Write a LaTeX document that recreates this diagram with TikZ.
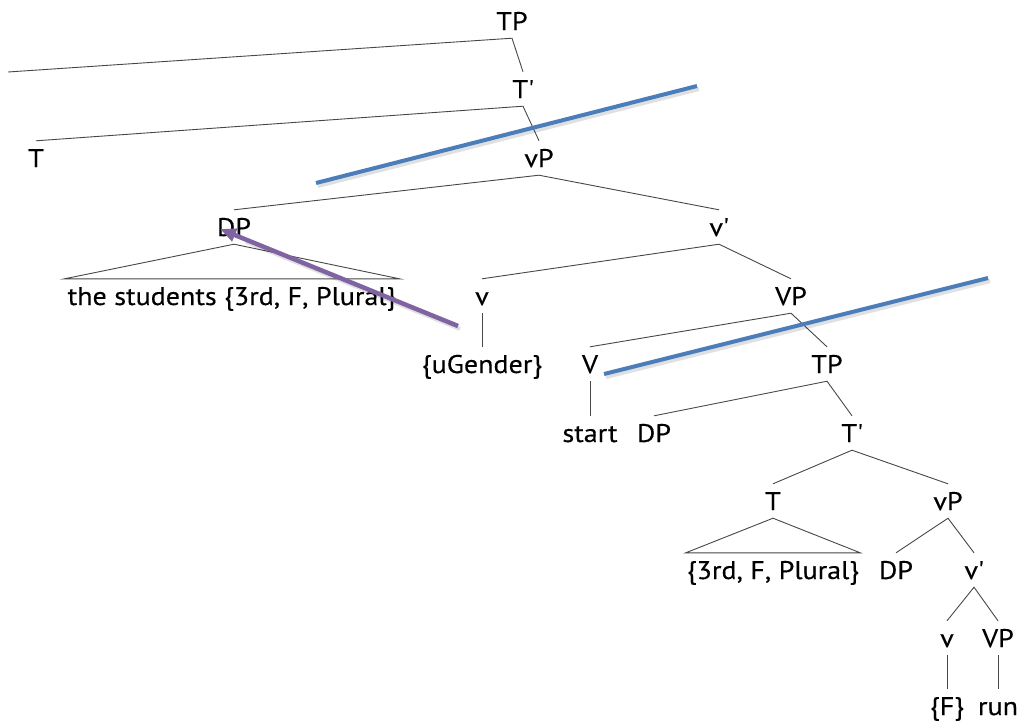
\documentclass[tikz,border=0pt]{standalone}
\usepackage{fontspec}
\setmainfont{PT Sans}[FakeStretch=1.1,FakeBold=0.3]
\usetikzlibrary{arrows.meta,calc}
\definecolor{strikeblue}{RGB}{74,126,187}
\definecolor{agrpurple}{RGB}{128,100,162}
\newcommand{\lblfont}{\fontsize{25.5}{30}\selectfont}
\newcommand{\pr}{\textquotesingle}
\tikzset{
  lbl/.style={font=\lblfont, inner xsep=1pt, inner ysep=8pt, text height=18pt, text depth=0pt, anchor=base},
  branch/.style={draw=black!72, line width=0.9pt},
  strike/.style={draw=strikeblue, line width=4pt},
  agree/.style={draw=agrpurple, line width=4.5pt, -{Triangle[length=16pt,width=13pt]}},
  shade/.style={draw=black, opacity=0.12, line width=4pt}
}
\begin{document}
\begin{tikzpicture}[x=1pt,y=-1pt]
\useasboundingbox (0,0) rectangle (1027,723);
% row 0
\node[lbl] (TP0) at (512,30) {TP};
% row 1
\node[lbl] (Tb1) at (523,98) {T\pr};
% row 2
\node[lbl] (T2) at (36,167) {T};
\node[lbl] (vP2) at (539,167) {vP};
% row 3
\node[lbl] (DP3) at (234,236) {DP};
\node[lbl] (vb3) at (719,236) {v\pr};
% row 4
\node[lbl, inner xsep=3pt] (stud) at (232,305) {the students \{3rd, F, Plural\}};
\node[lbl] (v4) at (482,305) {v};
\node[lbl] (VP4) at (791,305) {VP};
% row 5
\node[lbl] (uG) at (482,373) {\{uGender\}};
\node[lbl] (V5) at (590,373) {V};
\node[lbl] (TP5) at (827,373) {TP};
% row 6
\node[lbl] (start) at (590,442) {start};
\node[lbl] (DP6) at (654,442) {DP};
\node[lbl] (Tb6) at (852,442) {T\pr};
% row 7
\node[lbl] (T7) at (773,510) {T};
\node[lbl] (vP7) at (948,510) {vP};
% row 8
\node[lbl, inner xsep=1pt] (feat) at (773,579) {\{3rd, F, Plural\}};
\node[lbl] (DP8) at (896,579) {DP};
\node[lbl] (vb8) at (974,579) {v\pr};
% row 9
\node[lbl] (v9) at (947,647) {v};
\node[lbl] (VP9) at (998,647) {VP};
% row 10
\node[lbl] (F10) at (947,715) {\{F\}};
\node[lbl] (run) at (998,715) {run};

\coordinate (offleft) at (8,72);

% branches
\draw[branch] (offleft) -- (TP0.south) -- (Tb1.north);
\draw[branch] (T2.north) -- (Tb1.south) -- (vP2.north);
\draw[branch] (DP3.north) -- (vP2.south) -- (vb3.north);
\draw[branch] (stud.north west) -- (DP3.south) -- (stud.north east) -- cycle;
\draw[branch] (v4.north) -- (vb3.south) -- (VP4.north);
\draw[branch] (v4.south) -- (uG.north);
\draw[branch] (V5.north) -- (VP4.south) -- (TP5.north);
\draw[branch] (V5.south) -- (start.north);
\draw[branch] (DP6.north) -- (TP5.south) -- (Tb6.north);
\draw[branch] (T7.north) -- (Tb6.south) -- (vP7.north);
\draw[branch] (feat.north west) -- (T7.south) -- (feat.north east) -- cycle;
\draw[branch] (DP8.north) -- (vP7.south) -- (vb8.north);
\draw[branch] (v9.north) -- (vb8.south) -- (VP9.north);
\draw[branch] (v9.south) -- (F10.north);
\draw[branch] (VP9.south) -- (run.north);

% strike-throughs and agreement arrow
\coordinate (s1a) at (316,183);
\coordinate (s1b) at (697,86);
\coordinate (s2a) at (604,374);
\coordinate (s2b) at (988,278);
\coordinate (agrS) at (458,326);
\coordinate (agrE) at (220,229);
\draw[shade] ([shift={(2,3)}]s1a) -- ([shift={(2,3)}]s1b);
\draw[shade] ([shift={(2,3)}]s2a) -- ([shift={(2,3)}]s2b);
\draw[shade] ([shift={(2,3)}]agrS) -- ([shift={(2,3)}]$(agrS)!0.9!(agrE)$);
\draw[strike] (s1a) -- (s1b);
\draw[strike] (s2a) -- (s2b);
\draw[agree] (agrS) -- (agrE);
\end{tikzpicture}
\end{document}
